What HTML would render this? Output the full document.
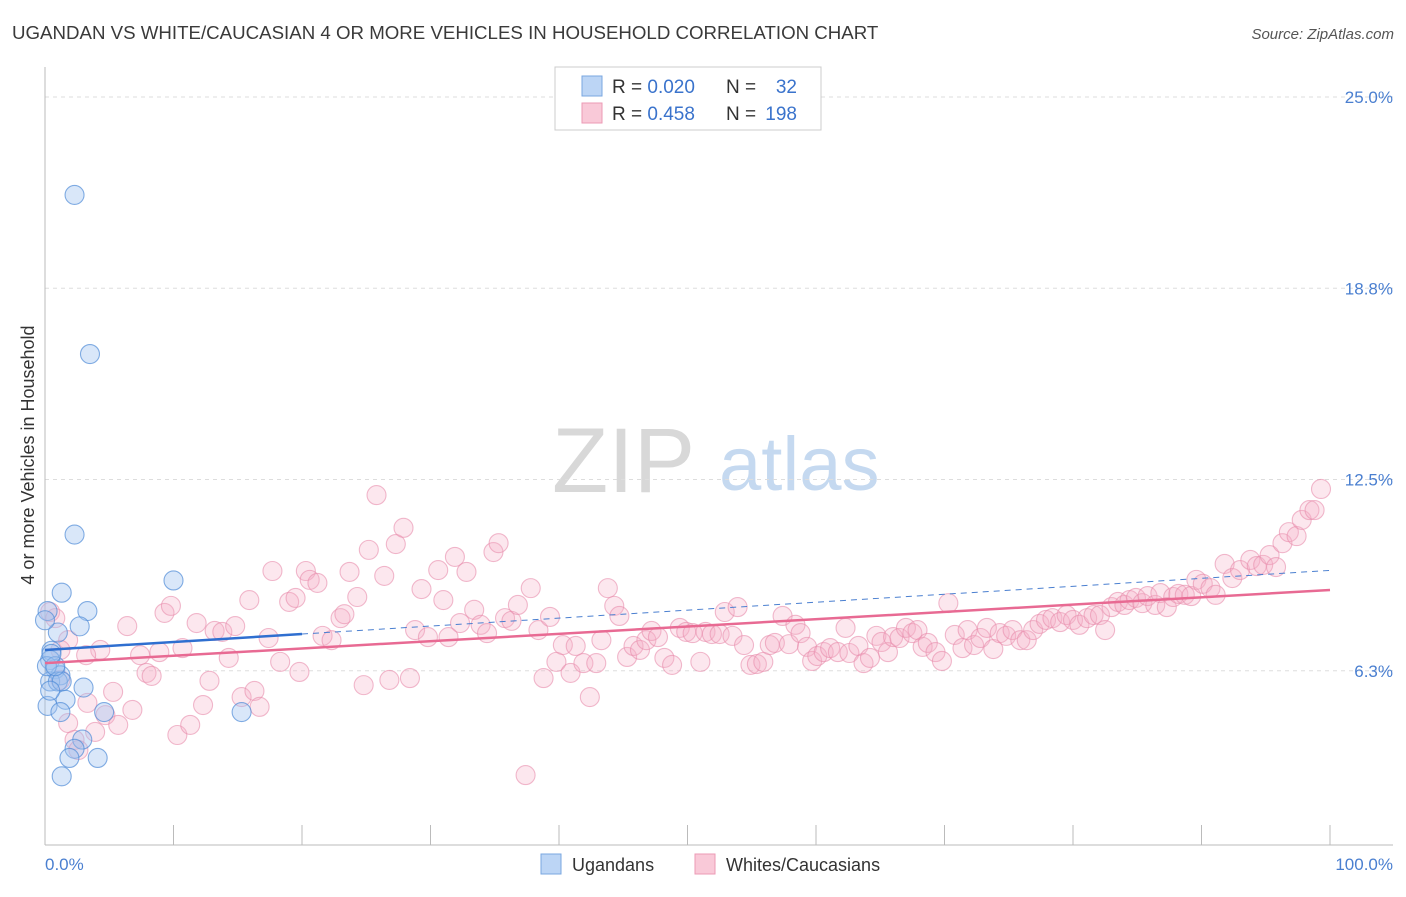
<!DOCTYPE html>
<html><head><meta charset="utf-8"><style>
body{margin:0;background:#fff;font-family:"Liberation Sans",sans-serif}
svg text{font-family:"Liberation Sans",sans-serif}
</style></head><body>
<svg id="chart" width="1406" height="892" viewBox="0 0 1406 892" xmlns="http://www.w3.org/2000/svg">
<text x="12" y="39" font-size="18.7" fill="#3a3a3a">UGANDAN VS WHITE/CAUCASIAN 4 OR MORE VEHICLES IN HOUSEHOLD CORRELATION CHART</text>
<text x="1394" y="39" font-size="15" fill="#555" text-anchor="end" font-style="italic">Source: ZipAtlas.com</text>
<g>
<text x="552" y="492" font-size="92" fill="#d8d8d8" font-family="Liberation Serif, serif">ZIP</text>
<text x="719" y="490" font-size="76" fill="#c5d9f0">atlas</text>
</g>
<g id="grid"></g>
<line x1="45" y1="67" x2="45" y2="845" stroke="#bbb"/>
<line x1="45" y1="845" x2="1393" y2="845" stroke="#bbb"/>
<g id="xticks"></g>
<text transform="translate(34,455) rotate(-90)" font-size="18" fill="#333" text-anchor="middle">4 or more Vehicles in Household</text>
<text x="45" y="870" font-size="17" fill="#4a7fd0">0.0%</text>
<text x="1393" y="870" font-size="17" fill="#4a7fd0" text-anchor="end">100.0%</text>
<g id="points"></g>
<g id="lines"></g>
<g>
<rect x="555" y="67" width="266" height="63" fill="#fff" stroke="#ccc"/>
<rect x="582" y="76" width="20" height="20" fill="#bcd5f5" stroke="#7aa7e0"/>
<rect x="582" y="103" width="20" height="20" fill="#f9c9d8" stroke="#ec9ab5"/>
<text x="612" y="93" font-size="19" fill="#333">R = <tspan fill="#3a73cc">0.020</tspan></text>
<text x="726" y="93" font-size="19" fill="#333">N = </text><text x="797" y="93" font-size="19" fill="#3a73cc" text-anchor="end">32</text>
<text x="612" y="120" font-size="19" fill="#333">R = <tspan fill="#3a73cc">0.458</tspan></text>
<text x="726" y="120" font-size="19" fill="#333">N = </text><text x="797" y="120" font-size="19" fill="#3a73cc" text-anchor="end">198</text>
</g>
<g>
<rect x="541" y="854" width="20" height="20" fill="#bcd5f5" stroke="#7aa7e0"/>
<text x="572" y="871" font-size="18" fill="#333">Ugandans</text>
<rect x="695" y="854" width="20" height="20" fill="#f9c9d8" stroke="#ec9ab5"/>
<text x="726" y="871" font-size="18" fill="#333">Whites/Caucasians</text>
</g>
</svg>
<script>
const yTicks=[6.25,12.5,18.75,25];
const yTickLabels=["6.3%","12.5%","18.8%","25.0%"];
const xTicks=[0,10,20,30,40,50,60,70,80,90,100];
const blueX=[2.3,3.5,2.3,10.0,1.3,3.3,0.2,2.7,1.0,0.5,0.4,0.8,1.2,0.4,1.0,1.3,3.0,1.6,0.2,1.2,4.6,15.3,2.9,2.3,1.9,4.1,1.3,0.4,0.15,0.8,0.0,0.5];
const blueY=[21.8,16.6,10.7,9.2,8.8,8.2,8.2,7.7,7.5,6.9,6.6,6.3,6.1,5.9,5.9,5.9,5.7,5.3,5.1,4.9,4.9,4.9,4.0,3.7,3.4,3.4,2.8,5.6,6.4,6.4,7.9,6.8];
const pinkX=[0.4,0.8,1.2,1.8,2.3,2.6,3.3,3.9,4.3,4.7,5.3,5.7,6.4,6.8,7.4,7.9,8.3,8.9,9.3,9.8,10.3,10.7,11.3,11.8,12.3,12.8,13.2,13.8,14.3,14.8,15.3,15.9,16.3,16.7,17.4,17.7,18.3,19.0,19.5,19.8,20.3,20.6,21.2,21.6,22.3,23.0,23.3,23.7,24.3,24.8,25.2,25.8,26.4,26.8,27.3,27.9,28.4,28.8,29.3,29.8,30.6,31.0,31.4,31.9,32.3,32.8,33.4,33.9,34.4,34.9,35.3,35.8,36.3,36.8,37.4,37.8,38.4,38.8,39.3,39.8,40.3,40.9,41.3,41.9,42.4,42.9,43.3,43.8,44.3,44.7,45.3,45.8,46.3,46.8,47.2,47.7,48.2,48.8,49.4,49.9,50.4,51.0,51.4,51.9,52.5,52.9,53.5,53.9,54.4,54.9,55.4,55.9,56.4,56.8,57.4,57.9,58.4,58.8,59.3,59.7,60.1,60.6,61.1,61.7,62.3,62.6,63.3,63.7,64.2,64.7,65.1,65.6,66.0,66.5,67.0,67.5,67.9,68.3,68.7,69.3,69.8,70.3,70.8,71.4,71.8,72.3,72.8,73.3,73.8,74.3,74.8,75.3,75.9,76.4,76.9,77.4,77.9,78.4,79.0,79.5,80.0,80.5,81.1,81.6,82.1,82.5,83.0,83.5,84.0,84.4,84.9,85.4,85.8,86.4,86.8,87.3,87.8,88.2,88.7,89.2,89.6,90.1,90.7,91.1,91.8,92.4,93.0,93.8,94.3,94.8,95.3,95.8,96.3,96.8,97.4,97.8,98.4,98.8,99.3,1.8,3.2,1.2];
const pinkY=[8.17,7.97,5.95,4.54,3.99,3.66,5.20,4.25,6.93,4.80,5.56,4.48,7.71,4.97,6.76,6.18,6.08,6.86,8.14,8.37,4.15,6.99,4.48,7.81,5.13,5.92,7.55,7.52,6.67,7.71,5.39,8.56,5.59,5.07,7.32,9.51,6.54,8.50,8.63,6.21,9.51,9.22,9.12,7.39,7.25,7.97,8.10,9.48,8.66,5.78,10.20,11.99,9.35,5.95,10.39,10.92,6.01,7.58,8.92,7.35,9.54,8.56,7.35,9.97,7.81,9.48,8.24,7.75,7.48,10.13,10.42,7.97,7.88,8.40,2.84,8.95,7.58,6.01,8.01,6.54,7.09,6.18,7.06,6.50,5.39,6.50,7.25,8.95,8.37,8.04,6.70,7.06,6.93,7.25,7.55,7.35,6.67,6.44,7.65,7.52,7.48,6.54,7.52,7.45,7.45,8.17,7.39,8.33,7.09,6.44,6.47,6.54,7.09,7.16,8.04,7.12,7.75,7.48,7.03,6.57,6.73,6.86,6.99,6.86,7.65,6.83,7.06,6.50,6.67,7.39,7.19,6.86,7.35,7.32,7.65,7.48,7.58,7.03,7.16,6.86,6.57,8.46,7.42,6.99,7.58,7.09,7.32,7.65,6.96,7.48,7.39,7.58,7.25,7.25,7.58,7.78,7.91,7.97,7.84,8.07,7.91,7.75,7.97,8.07,8.07,7.58,8.33,8.50,8.40,8.56,8.63,8.46,8.69,8.40,8.79,8.33,8.66,8.76,8.73,8.69,9.22,9.09,8.95,8.73,9.74,9.28,9.54,9.87,9.67,9.71,10.03,9.64,10.42,10.78,10.65,11.18,11.50,11.50,12.19,7.25,6.76,6.93];
const blueTrend=[6.93,7.45];   // value at x=0 and x=20
const pinkTrend=[6.50,8.89];   // value at x=0 and x=100
const X=v=>45+v*12.85;
const Y=v=>862-v*30.6;
const NS="http://www.w3.org/2000/svg";
function mk(tag,attrs,parent){const e=document.createElementNS(NS,tag);for(const k in attrs)e.setAttribute(k,attrs[k]);parent.appendChild(e);return e;}
const grid=document.getElementById('grid');
yTicks.forEach((t,i)=>{
  const l=mk('line',{x1:45,x2:1393,y1:Y(t),y2:Y(t),stroke:'#ddd','stroke-dasharray':'4,4'},grid);
  
  
  const tx=mk('text',{x:1393,y:Y(t)+6,'font-size':17,fill:'#4a7fd0','text-anchor':'end'},grid);
  tx.textContent=yTickLabels[i];
  
  
});
const xt=document.getElementById('xticks');
xTicks.forEach(t=>{
  const l=mk('line',{x1:X(t),x2:X(t),y1:825,y2:845,stroke:'#bbb'},xt);
  
  
});
const pts=document.getElementById('points');
pinkX.forEach((x,i)=>{
  const c=mk('circle',{cx:X(x),cy:Y(pinkY[i]),r:9.5,fill:'rgba(246,175,198,0.3)',stroke:'rgba(232,140,172,0.6)','stroke-width':1.1},pts);
  
  
});
blueX.forEach((x,i)=>{
  const c=mk('circle',{cx:X(x),cy:Y(blueY[i]),r:9.5,fill:'rgba(160,195,240,0.4)',stroke:'rgba(80,140,215,0.7)','stroke-width':1.1},pts);
  
  
});
const ln=document.getElementById('lines');
const slopeB=(blueTrend[1]-blueTrend[0])/20;
const bd=mk('line',{x1:X(20),y1:Y(blueTrend[1]),x2:X(100),y2:Y(blueTrend[0]+slopeB*100),stroke:'#4a7fd0','stroke-width':1,'stroke-dasharray':'6,5'},ln);


const pl=mk('line',{x1:X(0),y1:Y(pinkTrend[0]),x2:X(100),y2:Y(pinkTrend[1]),stroke:'#e86a93','stroke-width':2.5},ln);


const bl=mk('line',{x1:X(0),y1:Y(blueTrend[0]),x2:X(20),y2:Y(blueTrend[1]),stroke:'#2f6fd0','stroke-width':2.5},ln);


</script>
</body></html>
